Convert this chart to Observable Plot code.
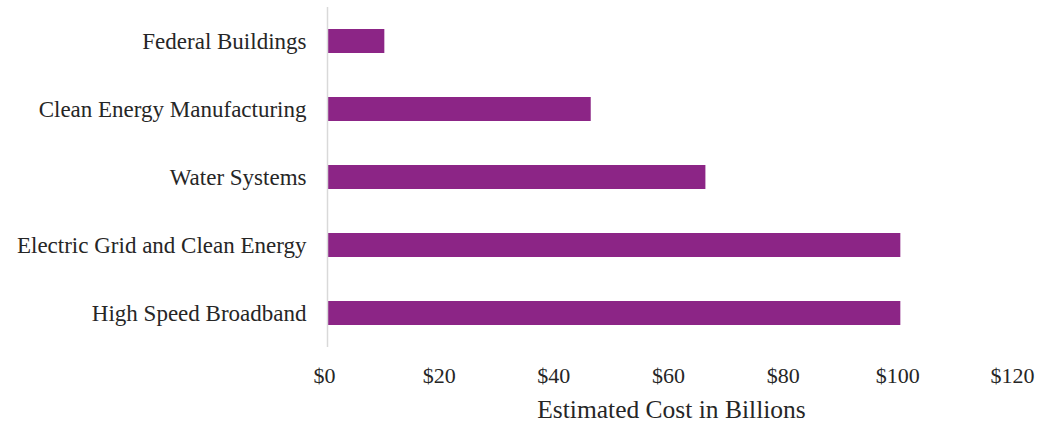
<!DOCTYPE html>
<html>
<head>
<meta charset="utf-8">
<script src="https://cdn.jsdelivr.net/npm/d3@7"></script>
<script src="https://cdn.jsdelivr.net/npm/@observablehq/plot@0.6"></script>
<style>
  html, body { margin: 0; padding: 0; background: #fff; }
  #chart svg { display: block; font-family: "Liberation Serif", "DejaVu Serif", serif; }
</style>
</head>
<body>
<div id="chart"></div>
<script>
// Infrastructure spending categories, top to bottom
const categories = [
  "Federal Buildings",
  "Clean Energy Manufacturing",
  "Water Systems",
  "Electric Grid and Clean Energy",
  "High Speed Broadband"
];
// Estimated cost in billions of dollars
const costs = [10, 46, 66, 100, 100];
const xTicks = [0, 20, 40, 60, 80, 100, 120];
const xTitle = "Estimated Cost in Billions";

const data = categories.map((name, i) => ({ name, cost: costs[i] }));

const chart = Plot.plot({
  width: 1041,
  height: 423,
  marginLeft: 327,
  marginRight: 26,
  marginTop: 7,
  marginBottom: 76,
  style: { fontFamily: '"Liberation Serif", "DejaVu Serif", serif', color: "#262626", background: "#fff" },
  x: { domain: [0, 120] },
  y: { domain: categories, paddingInner: 0.65, paddingOuter: 0.325 },
  marks: [
    Plot.barX(data, { x: "cost", y: "name", fill: "#8c2586" }),
    Plot.ruleX([0], { stroke: "#d9d9d9", strokeWidth: 1.5 }),
    Plot.axisY({ tickSize: 0, tickPadding: 21, fontSize: 23, label: null }),
    Plot.axisX({ ticks: xTicks, tickSize: 0, tickPadding: 20, dx: -3, fontSize: 22, tickFormat: d => "$" + d, label: null }),
    Plot.text([xTitle], { frameAnchor: "bottom", dy: 62, fontSize: 25.5, lineAnchor: "middle", fill: "#262626" })
  ]
});

document.getElementById("chart").appendChild(chart);
</script>
</body>
</html>
